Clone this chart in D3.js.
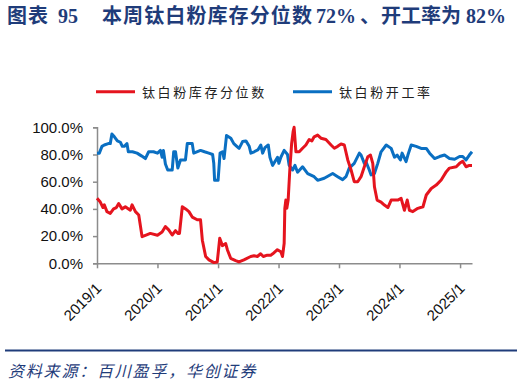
<!DOCTYPE html>
<html><head><meta charset="utf-8">
<script src="https://cdn.jsdelivr.net/npm/d3@7"></script>
<style>
html,body{margin:0;padding:0;background:#fff;}
svg{display:block;}
</style></head>
<body>
<svg id="c" width="524" height="385"></svg>
<script>
// ---- data ----
const seriesNames = ["钛白粉库存分位数", "钛白粉开工率"];
const yTickValues = [0, 20, 40, 60, 80, 100];
const xTickLabels = ["2019/1","2020/1","2021/1","2022/1","2023/1","2024/1","2025/1"];
const titleParts = ["图表", "95", "本周钛白粉库存分位数", "72%", "、", "开工率为", "82%"];

const inventoryDates = ["2019-01-01","2019-01-21","2019-02-06","2019-02-14","2019-03-02","2019-03-22","2019-04-11","2019-04-28","2019-05-12","2019-06-01","2019-06-21","2019-07-21","2019-08-01","2019-08-21","2019-09-10","2019-09-30","2019-10-20","2019-11-19","2020-01-01","2020-01-29","2020-02-18","2020-03-09","2020-03-30","2020-04-19","2020-05-03","2020-05-13","2020-05-30","2020-06-19","2020-07-09","2020-07-29","2020-08-28","2020-09-17","2020-09-28","2020-10-18","2020-11-07","2020-12-07","2020-12-27","2021-01-11","2021-01-27","2021-02-16","2021-02-26","2021-03-18","2021-04-17","2021-05-07","2021-06-06","2021-07-17","2021-08-06","2021-08-26","2021-09-15","2021-10-01","2021-10-25","2021-11-15","2021-11-27","2021-12-25","2022-01-15","2022-01-25","2022-02-04","2022-02-08","2022-02-14","2022-02-20","2022-02-28","2022-03-10","2022-03-21","2022-03-30","2022-04-05","2022-04-16","2022-05-06","2022-05-26","2022-06-15","2022-07-05","2022-07-21","2022-08-04","2022-08-25","2022-09-14","2022-10-14","2022-11-14","2022-12-04","2022-12-24","2023-01-13","2023-02-02","2023-02-23","2023-03-15","2023-04-03","2023-04-24","2023-05-14","2023-06-03","2023-06-24","2023-07-10","2023-07-24","2023-08-03","2023-08-19","2023-09-12","2023-10-02","2023-10-23","2023-11-12","2023-12-22","2024-01-11","2024-01-31","2024-02-17","2024-03-01","2024-03-22","2024-04-21","2024-05-22","2024-06-11","2024-07-11","2024-08-10","2024-09-09","2024-10-10","2024-10-29","2024-12-09","2024-12-29","2025-01-17","2025-02-06","2025-02-26","2025-03-14"];
const inventoryValues = [47.8,45,41,43,38,36.7,40,41,44,40,41.5,39,43,38,35.5,19.6,20.6,22,20.6,23,27,24.6,20.8,24,22,22,41.6,40,38,34,32,32,17,5,2.5,0.5,1,18.4,13,14.5,10,3.7,2,1,2.5,5,5.5,5,7,5,6,6,7,10,8.5,5,14.7,40.4,46.5,40.4,46.5,68.6,88,96.8,100,82,82,84.6,87,91,90,93,94.3,92,91,87,84.6,86,87.7,87,76,68.6,60,60,63.7,71,78.4,79.6,73.5,56.3,46.5,45,42.8,41,46.5,46.5,47.8,39,46.5,39,38,40.4,41.6,50.2,55,57.5,61.3,67.4,70,71,73.5,75,71,72,72];

const utilDates = ["2019-01-01","2019-01-15","2019-01-31","2019-02-14","2019-03-10","2019-03-22","2019-04-01","2019-04-16","2019-05-04","2019-05-22","2019-06-03","2019-06-15","2019-07-01","2019-07-09","2019-08-03","2019-08-31","2019-09-26","2019-10-20","2019-11-09","2019-12-08","2020-01-01","2020-01-19","2020-01-29","2020-02-06","2020-02-18","2020-03-03","2020-03-30","2020-04-08","2020-04-19","2020-05-03","2020-05-19","2020-06-18","2020-06-29","2020-07-29","2020-08-07","2020-09-17","2020-10-11","2020-11-06","2020-11-29","2020-12-06","2020-12-11","2021-01-01","2021-01-13","2021-01-28","2021-02-06","2021-02-21","2021-03-19","2021-04-06","2021-04-24","2021-05-08","2021-05-29","2021-06-18","2021-07-08","2021-07-18","2021-08-07","2021-08-31","2021-09-16","2021-09-27","2021-10-11","2021-10-31","2021-11-10","2021-11-26","2021-12-16","2021-12-26","2022-01-03","2022-01-15","2022-02-04","2022-02-24","2022-03-06","2022-03-27","2022-04-10","2022-04-26","2022-05-26","2022-06-26","2022-08-04","2022-08-25","2022-10-04","2022-11-24","2022-12-24","2023-01-23","2023-02-12","2023-03-04","2023-04-03","2023-05-04","2023-05-14","2023-06-03","2023-06-13","2023-07-03","2023-07-14","2023-08-03","2023-08-23","2023-09-12","2023-10-13","2023-11-12","2023-12-02","2023-12-18","2024-01-07","2024-01-17","2024-02-10","2024-02-21","2024-03-12","2024-04-11","2024-05-11","2024-06-11","2024-07-01","2024-07-31","2024-08-30","2024-09-29","2024-10-29","2024-11-29","2024-12-29","2025-01-17","2025-02-06","2025-02-26","2025-03-14"];
const utilValues = [81,81,86,87,88,88,95,93,90,89,86,86,88,82,82,81,79,77,82,82,81,83,78,83,73,68.6,68.6,82,82,70,76,76,88,88,81,83,82,81,80,73.6,61,61,81,82,77,94,92,88,86,84.5,89.5,90,86,81,82,83.6,87,81,85,87,78,72,76,78,73.5,78,83,80,72,68.6,72,67,71,66,63.7,61,62.5,66,63.7,61.5,63.7,70,73.5,81,79.6,73.5,74.7,68.6,65,66,73.5,82,87,84.5,78,79.6,76,81,74.7,79.6,87,86,84.5,84.5,81,77,78.5,79.6,77,76.5,78.5,78.5,76,79.6,82];

// ---- chart ----
const parse = d3.timeParse("%Y-%m-%d");
const svg = d3.select("#c");
const m = {l: 97, r: 472, t: 127.3, b: 263.3};
const x = d3.scaleTime().domain([parse("2019-01-01"), parse("2025-03-14")]).range([m.l, m.r]);
const y = d3.scaleLinear().domain([0, 100]).range([m.b, m.t]);
const colors = ["#E5141E", "#0A6FC2"];
const navy = "#1F3C7A";

// title
const titleX = [7, 58, 102, 316, 360, 381, 466];
const titleLS = [1, 0, 1.1, 0, 0, 0, 0];
const title = svg.append("text").attr("y", 23)
  .attr("font-family", "'Liberation Serif','Noto Sans CJK SC',serif")
  .attr("font-weight", "bold").attr("font-size", 20).attr("fill", navy);
titleParts.forEach((t, i) => {
  title.append("tspan").attr("x", titleX[i]).attr("letter-spacing", titleLS[i]).text(t);
});

// legend
const legX = [96, 293];
seriesNames.forEach((n, i) => {
  svg.append("line").attr("x1", legX[i]).attr("x2", legX[i] + 39)
    .attr("y1", 91.7).attr("y2", 91.7).attr("stroke", colors[i]).attr("stroke-width", 3);
  svg.append("text").attr("x", legX[i] + 46).attr("y", 96.5)
    .attr("font-family", "'Noto Sans CJK SC',sans-serif").attr("font-size", 13)
    .attr("letter-spacing", 2.6).attr("fill", "#222").text(n);
});

// axes
const axisColor = "#8C8C8C";
const yAxis = svg.append("g").attr("transform", `translate(${m.l},0)`)
  .call(d3.axisLeft(y).tickValues(yTickValues).tickSize(4).tickPadding(10)
    .tickFormat(d => d.toFixed(1) + "%"));
yAxis.select(".domain").attr("stroke", axisColor).attr("stroke-width", 1.5);
yAxis.selectAll(".tick line").attr("stroke", axisColor).attr("stroke-width", 1.5);
yAxis.selectAll(".tick text").attr("font-family", "'Liberation Sans',Arial,sans-serif")
  .attr("font-size", 15).attr("fill", "#111");

const xTicks = xTickLabels.map(s => d3.timeParse("%Y/%m")(s));
const xAxis = svg.append("g").attr("transform", `translate(0,${m.b})`)
  .call(d3.axisBottom(x).tickValues(xTicks).tickSize(5).tickSizeOuter(0)
    .tickFormat((d, i) => xTickLabels[i]));
xAxis.select(".domain").attr("stroke", axisColor).attr("stroke-width", 1.5);
xAxis.selectAll(".tick line").attr("stroke", axisColor).attr("stroke-width", 1.5);
xAxis.selectAll(".tick text").attr("font-family", "'Liberation Sans',Arial,sans-serif")
  .attr("font-size", 15).attr("fill", "#111")
  .attr("text-anchor", "end").attr("dy", 0).attr("y", 0)
  .attr("transform", "translate(5,26) rotate(-45)");

// lines
const line = d3.line().x(d => x(d[0])).y(d => y(d[1]));
const inv = inventoryDates.map((d, i) => [parse(d), inventoryValues[i]]);
const util = utilDates.map((d, i) => [parse(d), utilValues[i]]);
svg.append("path").datum(util).attr("d", line).attr("fill", "none")
  .attr("stroke", colors[1]).attr("stroke-width", 3).attr("stroke-linejoin", "round");
svg.append("path").datum(inv).attr("d", line).attr("fill", "none")
  .attr("stroke", colors[0]).attr("stroke-width", 3).attr("stroke-linejoin", "round");

// footer
svg.append("line").attr("x1", 5).attr("x2", 517).attr("y1", 350.5).attr("y2", 350.5)
  .attr("stroke", navy).attr("stroke-width", 2);
svg.append("text").attr("x", 8).attr("y", 377)
  .attr("font-family", "'Noto Sans CJK SC',sans-serif").attr("font-size", 16)
  .attr("font-style", "italic").attr("letter-spacing", 1.8).attr("fill", navy)
  .text("资料来源：百川盈孚，华创证券");
</script>
</body></html>
